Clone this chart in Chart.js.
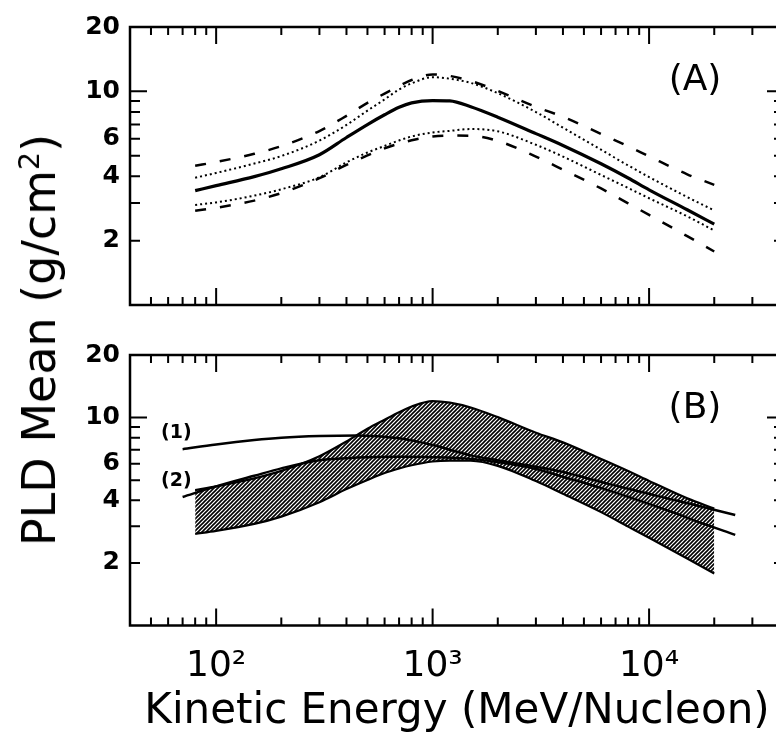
<!DOCTYPE html>
<html>
<head>
<meta charset="utf-8">
<title>PLD Mean vs Kinetic Energy</title>
<script src="https://cdn.jsdelivr.net/npm/chart.js@4.4.1/dist/chart.umd.min.js"></script>
<style>
  html, body { margin: 0; padding: 0; background: #fff; overflow: hidden; }
  #wrap { position: relative; width: 776px; height: 737px; overflow: hidden; }
  #wrap canvas { position: absolute; left: 0; }
  #chartA { top: 0; }
  #chartB { top: 330px; }
  #ytitle {
    position: absolute; left: 39px; top: 340px;
    transform: translate(-50%, -50%) rotate(-90deg);
    font: 46px "DejaVu Sans"; color: #000; white-space: nowrap;
  }
  #ytitle sup { font-size: 0.62em; }
</style>
</head>
<body>
<div id="wrap">
  <canvas id="chartA" width="800" height="330"></canvas>
  <canvas id="chartB" width="800" height="407"></canvas>
  <div id="ytitle">PLD Mean (g/cm<sup>2</sup>)</div>
</div>
<script>
// kinetic energy (MeV/nucleon) for panel A curves and the hatched band
var energy = [80, 100, 150, 200, 300, 400, 500, 600, 700, 800, 1000, 1200, 1500, 2000, 3000, 4000, 6000, 8000, 10000, 15000, 20000];
var meanSolid  = [3.43, 3.62, 3.99, 4.34, 5.05, 6.08, 6.99, 7.77, 8.42, 8.83, 9.05, 9.02, 8.47, 7.57, 6.34, 5.58, 4.58, 3.93, 3.46, 2.79, 2.39];
var dottedHigh = [3.94, 4.15, 4.59, 4.98, 5.88, 6.96, 8.12, 9.17, 10.2, 10.9, 11.65, 11.45, 10.95, 9.8, 8.0, 6.76, 5.33, 4.5, 3.97, 3.2, 2.77];
var dottedLow  = [2.94, 3.02, 3.25, 3.48, 3.96, 4.65, 5.17, 5.55, 5.89, 6.15, 6.42, 6.53, 6.66, 6.5, 5.62, 4.95, 4.06, 3.53, 3.16, 2.6, 2.23];
var dashedHigh = [4.48, 4.67, 5.1, 5.54, 6.52, 7.68, 8.83, 9.76, 10.6, 11.3, 12.0, 11.8, 11.18, 10.05, 8.46, 7.6, 6.32, 5.53, 4.96, 4.09, 3.65];
var dashedLow  = [2.76, 2.85, 3.08, 3.34, 3.92, 4.53, 5.01, 5.41, 5.69, 5.9, 6.15, 6.21, 6.2, 5.86, 4.95, 4.3, 3.51, 2.99, 2.64, 2.1, 1.78];

// panel B model curves (1) and (2)
var energyB = [70, 100, 150, 200, 300, 450, 700, 1000, 1500, 2000, 3000, 4000, 6000, 8000, 12000, 17000, 25000];
var model1 = [7.05, 7.43, 7.8, 8.0, 8.15, 8.2, 7.95, 7.38, 6.58, 6.24, 5.8, 5.47, 4.9, 4.55, 4.1, 3.76, 3.4];
var model2 = [4.15, 4.67, 5.25, 5.7, 6.24, 6.42, 6.48, 6.45, 6.33, 6.1, 5.66, 5.19, 4.59, 4.16, 3.6, 3.14, 2.73];

// axes
var xMin = 40, xMax = 42000;
var yMin = 1, yMax = 20;
var xTickValues = [100, 1000, 10000];
var xTickLabels = ['10\u00B2', '10\u00B3', '10\u2074'];
var xMinorTicks = [40, 50, 60, 70, 80, 90, 200, 300, 400, 500, 600, 700, 800, 900,
                   2000, 3000, 4000, 5000, 6000, 7000, 8000, 9000, 20000, 30000, 40000];
var yTickValues = [2, 4, 6, 10, 20];
var yMajorTicks = [10];
var yMinorTicks = [2, 3, 4, 5, 6, 7, 8, 9];

function pts(xs, ys) {
  return xs.map(function (x, i) { return { x: x, y: ys[i] }; });
}

function hatch(target) {
  var c = document.createElement('canvas');
  c.width = 4; c.height = 4;
  var g = c.getContext('2d');
  g.strokeStyle = '#000';
  g.lineWidth = 1.6;
  g.beginPath();
  g.moveTo(-1, 5); g.lineTo(5, -1);
  g.moveTo(-1, 1); g.lineTo(1, -1);
  g.moveTo(3, 5); g.lineTo(5, 3);
  g.stroke();
  return target.getContext('2d').createPattern(c, 'repeat');
}

// box with inward ticks on all four sides, plus panel / curve labels
var frameTicks = {
  id: 'frameTicks',
  afterDatasetsDraw: function (chart, args, o) {
    var ctx = chart.ctx, a = chart.chartArea;
    var xs = chart.scales.x, ys = chart.scales.y;
    ctx.save();
    ctx.strokeStyle = '#000';
    ctx.lineWidth = 2.5;
    ctx.strokeRect(a.left, a.top, a.right - a.left, a.bottom - a.top);
    ctx.lineWidth = 2;
    ctx.beginPath();
    function xt(v, len) {
      var p = xs.getPixelForValue(v);
      ctx.moveTo(p, a.bottom); ctx.lineTo(p, a.bottom - len);
      ctx.moveTo(p, a.top); ctx.lineTo(p, a.top + len);
    }
    function yt(v, len) {
      var p = ys.getPixelForValue(v);
      ctx.moveTo(a.left, p); ctx.lineTo(a.left + len, p);
      ctx.moveTo(a.right, p); ctx.lineTo(a.right - len, p);
    }
    xMinorTicks.forEach(function (v) { xt(v, 8); });
    xTickValues.forEach(function (v) { xt(v, 17); });
    yMinorTicks.forEach(function (v) { yt(v, 10); });
    yMajorTicks.forEach(function (v) { yt(v, 17); });
    ctx.stroke();

    ctx.fillStyle = '#000';
    ctx.textBaseline = 'middle';
    ctx.textAlign = 'center';
    ctx.font = '36px "DejaVu Sans"';
    ctx.fillText(o.panel, a.right - 89, a.top + 54);

    (o.curveLabels || []).forEach(function (c) {
      var meta = chart.getDatasetMeta(c.index);
      var first = meta.data[0];
      ctx.font = 'bold 19px "DejaVu Sans"';
      ctx.textAlign = 'right';
      ctx.fillText(c.text, first.x + 9, first.y - 16);
    });
    ctx.restore();
  }
};

function line(data, width, dash) {
  return {
    data: data,
    borderColor: '#000',
    borderWidth: width,
    borderDash: dash || [],
    pointRadius: 0,
    fill: false,
    cubicInterpolationMode: 'monotone'
  };
}

function options(showX, pad, panel, curveLabels) {
  return {
    responsive: false,
    animation: false,
    layout: { padding: pad },
    plugins: {
      legend: { display: false },
      tooltip: { enabled: false },
      frameTicks: { panel: panel, curveLabels: curveLabels }
    },
    scales: {
      x: {
        type: 'logarithmic',
        min: xMin, max: xMax,
        grid: { display: false, drawTicks: false },
        border: { display: false },
        afterBuildTicks: function (s) { s.ticks = xTickValues.map(function (v) { return { value: v }; }); },
        afterFit: function (s) { s.height = showX ? 111.5 : 0; },
        ticks: {
          display: showX,
          autoSkip: false,
          maxRotation: 0,
          padding: 20,
          color: '#000',
          font: { family: 'DejaVu Sans', size: 36 },
          callback: function (v) { return xTickLabels[xTickValues.indexOf(v)]; }
        },
        title: {
          display: showX,
          text: 'Kinetic Energy (MeV/Nucleon)',
          color: '#000',
          padding: 0,
          font: { family: 'DejaVu Sans', size: 42 }
        }
      },
      y: {
        type: 'logarithmic',
        min: yMin, max: yMax,
        grid: { display: false, drawTicks: false },
        border: { display: false },
        afterBuildTicks: function (s) { s.ticks = yTickValues.map(function (v) { return { value: v }; }); },
        afterFit: function (s) { s.width = 130; },
        ticks: {
          autoSkip: false,
          padding: 10,
          color: '#000',
          font: { family: 'DejaVu Sans', size: 25, weight: 'bold' },
          callback: function (v) { return String(v); }
        }
      }
    }
  };
}

var canvasA = document.getElementById('chartA');
new Chart(canvasA, {
  type: 'line',
  data: {
    datasets: [
      line(pts(energy, dashedHigh), 2.5, [11, 14]),
      line(pts(energy, dottedHigh), 2, [2, 3]),
      line(pts(energy, meanSolid), 3.2),
      line(pts(energy, dottedLow), 2, [2, 3]),
      line(pts(energy, dashedLow), 2.5, [11, 14])
    ]
  },
  options: options(false, { top: 27, bottom: 17, left: 0, right: 16 }, '(A)', []),
  plugins: [frameTicks]
});

var canvasB = document.getElementById('chartB');
var band = line(pts(energy, dashedLow), 2.2);
band.fill = '-1';
band.backgroundColor = hatch(canvasB);
new Chart(canvasB, {
  type: 'line',
  data: {
    datasets: [
      line(pts(energy, dashedHigh), 2.2),
      band,
      line(pts(energyB, model1), 2.5),
      line(pts(energyB, model2), 2.5)
    ]
  },
  options: options(true, { top: 13, bottom: 0, left: 0, right: 16 }, '(B)',
    [{ index: 2, text: '(1)' }, { index: 3, text: '(2)' }]),
  plugins: [frameTicks]
});
</script>
</body>
</html>
